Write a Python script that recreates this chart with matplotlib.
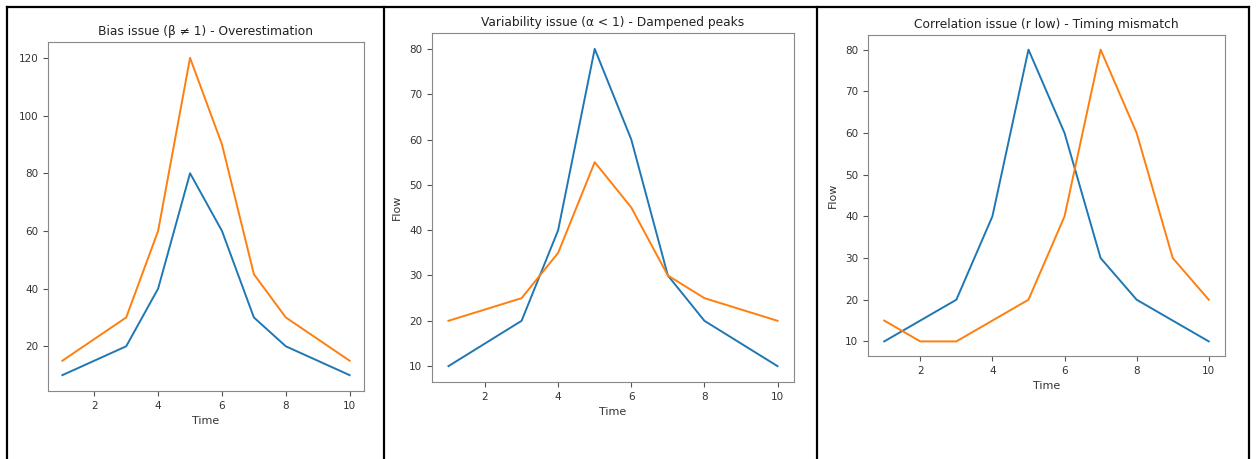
import numpy as np
import matplotlib
matplotlib.use("Agg")
import matplotlib.pyplot as plt
from matplotlib.lines import Line2D

plt.rcParams['font.family'] = ['DejaVu Sans']

time = [1, 2, 3, 4, 5, 6, 7, 8, 9, 10]
observed = [10, 15, 20, 40, 80, 60, 30, 20, 15, 10]
sim_bias = [15, 22.5, 30, 60, 120, 90, 45, 30, 22.5, 15]
sim_variability = [20, 22.5, 25, 35, 55, 45, 30, 25, 22.5, 20]
sim_timing = [15, 10, 10, 15, 20, 40, 80, 60, 30, 20]

titles = ["Bias issue (β ≠ 1) - Overestimation",
          "Variability issue (α < 1) - Dampened peaks",
          "Correlation issue (r low) - Timing mismatch"]
sims = [sim_bias, sim_variability, sim_timing]
ylabels = [None, "Flow", "Flow"]

W, H = 1256, 459
fig = plt.figure(figsize=(W / 100, H / 100), dpi=100)

# axes boxes in pixels: left, top, right, bottom
boxes = [(48, 42, 364, 391), (432, 33, 794, 382), (868, 35, 1225, 356)]

for box, title, sim, ylab in zip(boxes, titles, sims, ylabels):
    l, t, r, b = box
    ax = fig.add_axes([l / W, (H - b) / H, (r - l) / W, (b - t) / H])
    ax.plot(time, observed, color='#1f77b4', lw=1.4)
    ax.plot(time, sim, color='#ff7f0e', lw=1.4)
    ax.set_title(title, fontsize=8.8, color='#222222', pad=5)
    ax.set_xlabel("Time", fontsize=8, color='#333333')
    if ylab:
        ax.set_ylabel(ylab, fontsize=8, color='#333333', labelpad=5)
    ax.set_xticks([2, 4, 6, 8, 10])
    for s in ax.spines.values():
        s.set_color('#888888')
    ax.tick_params(labelsize=7.5, colors='#555555', labelcolor='#333333')

# table borders around the three pictures
lines = [((7, 1249), (7, 7)), ((7, 7), (7, 459)), ((384, 384), (7, 459)),
         ((817, 817), (7, 459)), ((1249, 1249), (7, 459))]
for xs, ys in lines:
    fig.add_artist(Line2D([x / W for x in xs], [1 - y / H for y in ys],
                          color='black', lw=1.6, transform=fig.transFigure))

fig.savefig("out.png", dpi=100)
